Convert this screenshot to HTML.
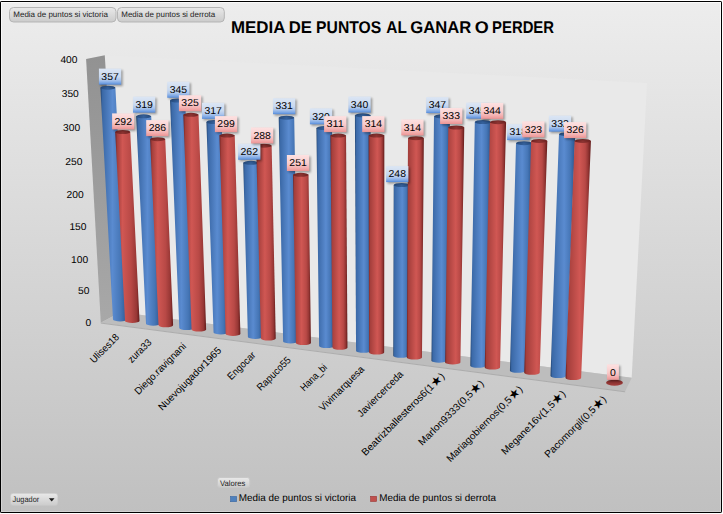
<!DOCTYPE html>
<html><head><meta charset="utf-8"><style>
html,body{margin:0;padding:0;background:#fff;}
svg{display:block;}
text{font-family:"Liberation Sans",sans-serif;text-rendering:geometricPrecision;}
.dl{font-size:10px;fill:#000;}
.ax{font-size:10px;fill:#000;}
.btn{font-size:8px;fill:#222;}
</style></head><body>
<svg width="723" height="514" viewBox="0 0 723 514">
<defs>
<linearGradient id="bg" x1="0" y1="0" x2="0" y2="1">
<stop offset="0" stop-color="#ededed"/><stop offset="1" stop-color="#c0c0c0"/>
</linearGradient>
<linearGradient id="lw" x1="0" y1="0" x2="0" y2="1">
<stop offset="0" stop-color="#929292"/><stop offset="1" stop-color="#a8a8a8"/>
</linearGradient>
<linearGradient id="gb" x1="0" y1="0" x2="1" y2="0">
<stop offset="0" stop-color="#21436f"/><stop offset="0.1" stop-color="#3b69a7"/>
<stop offset="0.48" stop-color="#5a8bd0"/><stop offset="0.78" stop-color="#4a7aba"/><stop offset="0.93" stop-color="#3864a0"/><stop offset="1" stop-color="#274a7c"/>
</linearGradient>
<linearGradient id="gr" x1="0" y1="0" x2="1" y2="0">
<stop offset="0" stop-color="#6a1e1d"/><stop offset="0.1" stop-color="#a13d3a"/>
<stop offset="0.5" stop-color="#cf5652"/><stop offset="0.78" stop-color="#bc4a47"/><stop offset="0.93" stop-color="#9c3a38"/><stop offset="1" stop-color="#6c1f1e"/>
</linearGradient>
<linearGradient id="cb" x1="0" y1="0" x2="1" y2="0">
<stop offset="0" stop-color="#25497a"/><stop offset="0.5" stop-color="#35619c"/><stop offset="1" stop-color="#25497a"/>
</linearGradient>
<linearGradient id="cr" x1="0" y1="0" x2="1" y2="0">
<stop offset="0" stop-color="#6e2322"/><stop offset="0.5" stop-color="#8e3432"/><stop offset="1" stop-color="#6e2322"/>
</linearGradient>
<linearGradient id="lb" x1="0" y1="0" x2="0" y2="1">
<stop offset="0" stop-color="#dce6f4"/><stop offset="0.5" stop-color="#c9d9f0"/><stop offset="0.72" stop-color="#abc5ec"/><stop offset="0.9" stop-color="#78a4e3"/><stop offset="1" stop-color="#5289db"/>
</linearGradient>
<linearGradient id="lr" x1="0" y1="0" x2="0" y2="1">
<stop offset="0" stop-color="#fde1e1"/><stop offset="0.5" stop-color="#f9cdcd"/><stop offset="0.75" stop-color="#f4b6b6"/><stop offset="0.92" stop-color="#ef9f9f"/><stop offset="1" stop-color="#ea9494"/>
</linearGradient>
<linearGradient id="btn" x1="0" y1="0" x2="0" y2="1">
<stop offset="0" stop-color="#e9e9e9"/><stop offset="1" stop-color="#cbcbcb"/>
</linearGradient>
<linearGradient id="hl" x1="0" y1="0" x2="0" y2="1"><stop offset="0" stop-color="#fafafa"/><stop offset="1" stop-color="#d2d2d2"/></linearGradient>
<linearGradient id="ze" x1="0" y1="0" x2="0" y2="1"><stop offset="0" stop-color="#7d2b2a"/><stop offset="1" stop-color="#a43f3d"/></linearGradient>
<linearGradient id="gb0" x1="0" y1="0" x2="1" y2="0"><stop offset="0.000" stop-color="#21436f"/><stop offset="0.080" stop-color="#3b69a7"/><stop offset="0.450" stop-color="#5a8bd0"/><stop offset="0.753" stop-color="#4676b6"/><stop offset="0.930" stop-color="#33609b"/><stop offset="1.000" stop-color="#264979"/></linearGradient><linearGradient id="gr1" x1="0" y1="0" x2="1" y2="0"><stop offset="0.000" stop-color="#6a1e1d"/><stop offset="0.080" stop-color="#a33e3b"/><stop offset="0.300" stop-color="#d05753"/><stop offset="0.650" stop-color="#b84946"/><stop offset="0.880" stop-color="#973735"/><stop offset="1.000" stop-color="#621b1a"/></linearGradient><linearGradient id="gb2" x1="0" y1="0" x2="1" y2="0"><stop offset="0.000" stop-color="#21436f"/><stop offset="0.080" stop-color="#3b69a7"/><stop offset="0.464" stop-color="#5a8bd0"/><stop offset="0.759" stop-color="#4676b6"/><stop offset="0.930" stop-color="#33609b"/><stop offset="1.000" stop-color="#264979"/></linearGradient><linearGradient id="gr3" x1="0" y1="0" x2="1" y2="0"><stop offset="0.000" stop-color="#6a1e1d"/><stop offset="0.080" stop-color="#a33e3b"/><stop offset="0.335" stop-color="#d05753"/><stop offset="0.668" stop-color="#b84946"/><stop offset="0.880" stop-color="#973735"/><stop offset="1.000" stop-color="#621b1a"/></linearGradient><linearGradient id="gb4" x1="0" y1="0" x2="1" y2="0"><stop offset="0.000" stop-color="#21436f"/><stop offset="0.080" stop-color="#3b69a7"/><stop offset="0.478" stop-color="#5a8bd0"/><stop offset="0.765" stop-color="#4676b6"/><stop offset="0.930" stop-color="#33609b"/><stop offset="1.000" stop-color="#264979"/></linearGradient><linearGradient id="gr5" x1="0" y1="0" x2="1" y2="0"><stop offset="0.000" stop-color="#6a1e1d"/><stop offset="0.080" stop-color="#a33e3b"/><stop offset="0.368" stop-color="#d05753"/><stop offset="0.684" stop-color="#b84946"/><stop offset="0.880" stop-color="#973735"/><stop offset="1.000" stop-color="#621b1a"/></linearGradient><linearGradient id="gb6" x1="0" y1="0" x2="1" y2="0"><stop offset="0.000" stop-color="#21436f"/><stop offset="0.080" stop-color="#3b69a7"/><stop offset="0.493" stop-color="#5a8bd0"/><stop offset="0.772" stop-color="#4676b6"/><stop offset="0.930" stop-color="#33609b"/><stop offset="1.000" stop-color="#264979"/></linearGradient><linearGradient id="gr7" x1="0" y1="0" x2="1" y2="0"><stop offset="0.000" stop-color="#6a1e1d"/><stop offset="0.080" stop-color="#a33e3b"/><stop offset="0.404" stop-color="#d05753"/><stop offset="0.702" stop-color="#b84946"/><stop offset="0.880" stop-color="#973735"/><stop offset="1.000" stop-color="#621b1a"/></linearGradient><linearGradient id="gb8" x1="0" y1="0" x2="1" y2="0"><stop offset="0.000" stop-color="#21436f"/><stop offset="0.080" stop-color="#3b69a7"/><stop offset="0.507" stop-color="#5a8bd0"/><stop offset="0.778" stop-color="#4676b6"/><stop offset="0.930" stop-color="#33609b"/><stop offset="1.000" stop-color="#264979"/></linearGradient><linearGradient id="gr9" x1="0" y1="0" x2="1" y2="0"><stop offset="0.000" stop-color="#6a1e1d"/><stop offset="0.080" stop-color="#a33e3b"/><stop offset="0.441" stop-color="#d05753"/><stop offset="0.721" stop-color="#b84946"/><stop offset="0.880" stop-color="#973735"/><stop offset="1.000" stop-color="#621b1a"/></linearGradient><linearGradient id="gb10" x1="0" y1="0" x2="1" y2="0"><stop offset="0.000" stop-color="#21436f"/><stop offset="0.080" stop-color="#3b69a7"/><stop offset="0.521" stop-color="#5a8bd0"/><stop offset="0.785" stop-color="#4676b6"/><stop offset="0.930" stop-color="#33609b"/><stop offset="1.000" stop-color="#264979"/></linearGradient><linearGradient id="gr11" x1="0" y1="0" x2="1" y2="0"><stop offset="0.000" stop-color="#6a1e1d"/><stop offset="0.080" stop-color="#a33e3b"/><stop offset="0.478" stop-color="#d05753"/><stop offset="0.739" stop-color="#b84946"/><stop offset="0.880" stop-color="#973735"/><stop offset="1.000" stop-color="#621b1a"/></linearGradient><linearGradient id="gb12" x1="0" y1="0" x2="1" y2="0"><stop offset="0.000" stop-color="#21436f"/><stop offset="0.080" stop-color="#3b69a7"/><stop offset="0.537" stop-color="#5a8bd0"/><stop offset="0.791" stop-color="#4676b6"/><stop offset="0.930" stop-color="#33609b"/><stop offset="1.000" stop-color="#264979"/></linearGradient><linearGradient id="gr13" x1="0" y1="0" x2="1" y2="0"><stop offset="0.000" stop-color="#6a1e1d"/><stop offset="0.080" stop-color="#a33e3b"/><stop offset="0.515" stop-color="#d05753"/><stop offset="0.758" stop-color="#b84946"/><stop offset="0.880" stop-color="#973735"/><stop offset="1.000" stop-color="#621b1a"/></linearGradient><linearGradient id="gb14" x1="0" y1="0" x2="1" y2="0"><stop offset="0.000" stop-color="#21436f"/><stop offset="0.080" stop-color="#3b69a7"/><stop offset="0.550" stop-color="#5a8bd0"/><stop offset="0.798" stop-color="#4676b6"/><stop offset="0.930" stop-color="#33609b"/><stop offset="1.000" stop-color="#264979"/></linearGradient><linearGradient id="gr15" x1="0" y1="0" x2="1" y2="0"><stop offset="0.000" stop-color="#6a1e1d"/><stop offset="0.080" stop-color="#a33e3b"/><stop offset="0.550" stop-color="#d05753"/><stop offset="0.775" stop-color="#b84946"/><stop offset="0.880" stop-color="#973735"/><stop offset="1.000" stop-color="#621b1a"/></linearGradient><linearGradient id="gb16" x1="0" y1="0" x2="1" y2="0"><stop offset="0.000" stop-color="#21436f"/><stop offset="0.080" stop-color="#3b69a7"/><stop offset="0.550" stop-color="#5a8bd0"/><stop offset="0.798" stop-color="#4676b6"/><stop offset="0.930" stop-color="#33609b"/><stop offset="1.000" stop-color="#264979"/></linearGradient><linearGradient id="gr17" x1="0" y1="0" x2="1" y2="0"><stop offset="0.000" stop-color="#6a1e1d"/><stop offset="0.080" stop-color="#a33e3b"/><stop offset="0.550" stop-color="#d05753"/><stop offset="0.775" stop-color="#b84946"/><stop offset="0.880" stop-color="#973735"/><stop offset="1.000" stop-color="#621b1a"/></linearGradient><linearGradient id="gb18" x1="0" y1="0" x2="1" y2="0"><stop offset="0.000" stop-color="#21436f"/><stop offset="0.080" stop-color="#3b69a7"/><stop offset="0.550" stop-color="#5a8bd0"/><stop offset="0.798" stop-color="#4676b6"/><stop offset="0.930" stop-color="#33609b"/><stop offset="1.000" stop-color="#264979"/></linearGradient><linearGradient id="gr19" x1="0" y1="0" x2="1" y2="0"><stop offset="0.000" stop-color="#6a1e1d"/><stop offset="0.080" stop-color="#a33e3b"/><stop offset="0.550" stop-color="#d05753"/><stop offset="0.775" stop-color="#b84946"/><stop offset="0.880" stop-color="#973735"/><stop offset="1.000" stop-color="#621b1a"/></linearGradient><linearGradient id="gb20" x1="0" y1="0" x2="1" y2="0"><stop offset="0.000" stop-color="#21436f"/><stop offset="0.080" stop-color="#3b69a7"/><stop offset="0.550" stop-color="#5a8bd0"/><stop offset="0.798" stop-color="#4676b6"/><stop offset="0.930" stop-color="#33609b"/><stop offset="1.000" stop-color="#264979"/></linearGradient><linearGradient id="gr21" x1="0" y1="0" x2="1" y2="0"><stop offset="0.000" stop-color="#6a1e1d"/><stop offset="0.080" stop-color="#a33e3b"/><stop offset="0.550" stop-color="#d05753"/><stop offset="0.775" stop-color="#b84946"/><stop offset="0.880" stop-color="#973735"/><stop offset="1.000" stop-color="#621b1a"/></linearGradient><linearGradient id="gb22" x1="0" y1="0" x2="1" y2="0"><stop offset="0.000" stop-color="#21436f"/><stop offset="0.080" stop-color="#3b69a7"/><stop offset="0.550" stop-color="#5a8bd0"/><stop offset="0.798" stop-color="#4676b6"/><stop offset="0.930" stop-color="#33609b"/><stop offset="1.000" stop-color="#264979"/></linearGradient><linearGradient id="gr23" x1="0" y1="0" x2="1" y2="0"><stop offset="0.000" stop-color="#6a1e1d"/><stop offset="0.080" stop-color="#a33e3b"/><stop offset="0.550" stop-color="#d05753"/><stop offset="0.775" stop-color="#b84946"/><stop offset="0.880" stop-color="#973735"/><stop offset="1.000" stop-color="#621b1a"/></linearGradient><linearGradient id="gb24" x1="0" y1="0" x2="1" y2="0"><stop offset="0.000" stop-color="#21436f"/><stop offset="0.080" stop-color="#3b69a7"/><stop offset="0.550" stop-color="#5a8bd0"/><stop offset="0.798" stop-color="#4676b6"/><stop offset="0.930" stop-color="#33609b"/><stop offset="1.000" stop-color="#264979"/></linearGradient><linearGradient id="gr25" x1="0" y1="0" x2="1" y2="0"><stop offset="0.000" stop-color="#6a1e1d"/><stop offset="0.080" stop-color="#a33e3b"/><stop offset="0.550" stop-color="#d05753"/><stop offset="0.775" stop-color="#b84946"/><stop offset="0.880" stop-color="#973735"/><stop offset="1.000" stop-color="#621b1a"/></linearGradient>
<filter id="sh" x="-30%" y="-30%" width="160%" height="160%"><feGaussianBlur stdDeviation="1.3"/></filter>
</defs>
<rect x="0" y="0" width="723" height="514" fill="#fff"/>
<rect x="0.5" y="1.5" width="721" height="511" rx="0.6" fill="url(#bg)" stroke="#000" stroke-width="1"/>
<rect x="1.5" y="2.5" width="719" height="509" fill="none" stroke="url(#hl)" stroke-width="1"/>
<!-- back wall -->
<polygon points="104.8,55.2 647,83 631.7,377.8 120.5,312.3" fill="#e9e9e9"/>
<!-- left wall -->
<polygon points="86.1,59.0 104.8,55.2 120.5,312.3 100.8,322.8" fill="url(#lw)"/>
<!-- floor -->
<polygon points="100.8,322.8 120.5,312.3 631.7,377.8 625.1,391.5" fill="#bdbdbd"/>
<line x1="100.8" y1="323.1" x2="625.1" y2="391.8" stroke="#a5a5a5" stroke-width="0.8"/>
<path d="M100.40,87.70 L112.99,319.38 A7.16,2.00 0 0 0 127.31,319.38 L115.40,87.70 Z" fill="url(#gb0)"/><ellipse cx="107.90" cy="87.70" rx="7.50" ry="2.00" fill="url(#cb)"/>
<path d="M115.20,132.00 L125.04,320.95 A7.24,2.00 0 0 0 139.53,320.95 L130.24,132.00 Z" fill="url(#gr1)"/><ellipse cx="122.72" cy="132.00" rx="7.52" ry="2.00" fill="url(#cr)"/>
<path d="M136.10,116.30 L146.00,323.66 A7.24,2.00 0 0 0 160.49,323.66 L151.20,116.30 Z" fill="url(#gb2)"/><ellipse cx="143.65" cy="116.30" rx="7.55" ry="2.00" fill="url(#cb)"/>
<path d="M150.10,139.20 L158.53,325.29 A7.29,2.00 0 0 0 173.12,325.29 L165.24,139.20 Z" fill="url(#gr3)"/><ellipse cx="157.67" cy="139.20" rx="7.57" ry="2.00" fill="url(#cr)"/>
<path d="M170.00,100.50 L179.31,327.98 A7.26,2.00 0 0 0 193.83,327.98 L185.20,100.50 Z" fill="url(#gb4)"/><ellipse cx="177.60" cy="100.50" rx="7.60" ry="2.00" fill="url(#cb)"/>
<path d="M183.30,114.80 L191.56,329.57 A7.30,2.00 0 0 0 206.16,329.57 L198.53,114.80 Z" fill="url(#gr5)"/><ellipse cx="190.92" cy="114.80" rx="7.62" ry="2.00" fill="url(#cr)"/>
<path d="M206.40,122.00 L213.56,332.42 A7.33,2.00 0 0 0 228.23,332.42 L221.70,122.00 Z" fill="url(#gb6)"/><ellipse cx="214.05" cy="122.00" rx="7.65" ry="2.00" fill="url(#cb)"/>
<path d="M219.40,135.60 L225.67,334.00 A7.37,2.00 0 0 0 240.40,334.00 L234.73,135.60 Z" fill="url(#gr7)"/><ellipse cx="227.07" cy="135.60" rx="7.67" ry="2.00" fill="url(#cr)"/>
<path d="M243.20,162.80 L247.92,336.89 A7.43,2.00 0 0 0 262.79,336.89 L258.60,162.80 Z" fill="url(#gb8)"/><ellipse cx="250.90" cy="162.80" rx="7.70" ry="2.00" fill="url(#cb)"/>
<path d="M256.20,145.70 L260.91,338.57 A7.43,2.00 0 0 0 275.76,338.57 L271.64,145.70 Z" fill="url(#gr9)"/><ellipse cx="263.92" cy="145.70" rx="7.72" ry="2.00" fill="url(#cr)"/>
<path d="M278.70,117.70 L283.13,341.44 A7.41,2.00 0 0 0 297.96,341.44 L294.20,117.70 Z" fill="url(#gb10)"/><ellipse cx="286.45" cy="117.70" rx="7.75" ry="2.00" fill="url(#cb)"/>
<path d="M293.00,174.80 L295.91,343.11 A7.51,2.00 0 0 0 310.93,343.11 L308.54,174.80 Z" fill="url(#gr11)"/><ellipse cx="300.77" cy="174.80" rx="7.77" ry="2.00" fill="url(#cr)"/>
<path d="M316.40,128.10 L319.12,346.11 A7.47,2.00 0 0 0 334.06,346.11 L332.01,128.10 Z" fill="url(#gb12)"/><ellipse cx="324.20" cy="128.10" rx="7.80" ry="2.00" fill="url(#cb)"/>
<path d="M330.40,135.60 L332.47,347.84 A7.50,2.00 0 0 0 347.46,347.84 L346.05,135.60 Z" fill="url(#gr13)"/><ellipse cx="338.22" cy="135.60" rx="7.82" ry="2.00" fill="url(#cr)"/>
<path d="M354.90,115.30 L356.06,350.90 A7.50,2.00 0 0 0 371.05,350.90 L370.61,115.30 Z" fill="url(#gb14)"/><ellipse cx="362.76" cy="115.30" rx="7.86" ry="2.00" fill="url(#cb)"/>
<path d="M368.60,135.60 L369.09,352.59 A7.54,2.00 0 0 0 384.17,352.59 L384.35,135.60 Z" fill="url(#gr15)"/><ellipse cx="376.48" cy="135.60" rx="7.88" ry="2.00" fill="url(#cr)"/>
<path d="M393.70,185.00 L393.23,355.73 A7.64,2.00 0 0 0 408.52,355.73 L409.52,185.00 Z" fill="url(#gb16)"/><ellipse cx="401.61" cy="185.00" rx="7.91" ry="2.00" fill="url(#cb)"/>
<path d="M408.00,138.20 L406.79,357.48 A7.59,2.00 0 0 0 421.97,357.48 L423.86,138.20 Z" fill="url(#gr17)"/><ellipse cx="415.93" cy="138.20" rx="7.93" ry="2.00" fill="url(#cr)"/>
<path d="M434.00,116.30 L431.42,360.67 A7.59,2.00 0 0 0 446.60,360.67 L449.94,116.30 Z" fill="url(#gb18)"/><ellipse cx="441.97" cy="116.30" rx="7.97" ry="2.00" fill="url(#cb)"/>
<path d="M448.30,127.50 L445.16,362.45 A7.62,2.00 0 0 0 460.40,362.45 L464.28,127.50 Z" fill="url(#gr19)"/><ellipse cx="456.29" cy="127.50" rx="7.99" ry="2.00" fill="url(#cr)"/>
<path d="M474.80,122.00 L470.28,365.71 A7.64,2.00 0 0 0 485.57,365.71 L490.85,122.00 Z" fill="url(#gb20)"/><ellipse cx="482.82" cy="122.00" rx="8.02" ry="2.00" fill="url(#cb)"/>
<path d="M490.00,122.20 L484.72,367.58 A7.66,2.00 0 0 0 500.04,367.58 L506.09,122.20 Z" fill="url(#gr21)"/><ellipse cx="498.05" cy="122.20" rx="8.05" ry="2.00" fill="url(#cr)"/>
<path d="M516.00,143.20 L509.92,370.85 A7.72,2.00 0 0 0 525.36,370.85 L532.16,143.20 Z" fill="url(#gb22)"/><ellipse cx="524.08" cy="143.20" rx="8.08" ry="2.00" fill="url(#cb)"/>
<path d="M531.10,140.90 L524.22,372.71 A7.73,2.00 0 0 0 539.69,372.71 L547.31,140.90 Z" fill="url(#gr23)"/><ellipse cx="539.20" cy="140.90" rx="8.10" ry="2.00" fill="url(#cr)"/>
<path d="M559.00,134.20 L550.51,376.12 A7.76,2.00 0 0 0 566.03,376.12 L575.29,134.20 Z" fill="url(#gb24)"/><ellipse cx="567.14" cy="134.20" rx="8.14" ry="2.00" fill="url(#cb)"/>
<path d="M574.60,140.90 L565.54,378.06 A7.78,2.00 0 0 0 581.11,378.06 L590.93,140.90 Z" fill="url(#gr25)"/><ellipse cx="582.76" cy="140.90" rx="8.16" ry="2.00" fill="url(#cr)"/>
<ellipse cx="614.5" cy="382.7" rx="8.4" ry="3.0" fill="url(#ze)"/>
<rect x="100.40" y="70.10" width="22.30" height="16.00" fill="#000" opacity="0.35" filter="url(#sh)"/><rect x="98.90" y="68.60" width="22.30" height="16.00" fill="url(#lb)"/><text x="110.05" y="79.80" text-anchor="middle" class="dl" textLength="17.40" lengthAdjust="spacingAndGlyphs">357</text>
<rect x="113.60" y="114.90" width="22.30" height="16.00" fill="#000" opacity="0.35" filter="url(#sh)"/><rect x="112.10" y="113.40" width="22.30" height="16.00" fill="url(#lr)"/><text x="123.25" y="124.60" text-anchor="middle" class="dl" textLength="17.40" lengthAdjust="spacingAndGlyphs">292</text>
<rect x="134.50" y="98.10" width="22.30" height="16.00" fill="#000" opacity="0.35" filter="url(#sh)"/><rect x="133.00" y="96.60" width="22.30" height="16.00" fill="url(#lb)"/><text x="144.15" y="107.80" text-anchor="middle" class="dl" textLength="17.40" lengthAdjust="spacingAndGlyphs">319</text>
<rect x="147.70" y="121.60" width="22.30" height="16.00" fill="#000" opacity="0.35" filter="url(#sh)"/><rect x="146.20" y="120.10" width="22.30" height="16.00" fill="url(#lr)"/><text x="157.35" y="131.30" text-anchor="middle" class="dl" textLength="17.40" lengthAdjust="spacingAndGlyphs">286</text>
<rect x="168.70" y="83.20" width="22.30" height="16.00" fill="#000" opacity="0.35" filter="url(#sh)"/><rect x="167.20" y="81.70" width="22.30" height="16.00" fill="url(#lb)"/><text x="178.35" y="92.90" text-anchor="middle" class="dl" textLength="17.40" lengthAdjust="spacingAndGlyphs">345</text>
<rect x="180.40" y="96.70" width="22.30" height="16.00" fill="#000" opacity="0.35" filter="url(#sh)"/><rect x="178.90" y="95.20" width="22.30" height="16.00" fill="url(#lr)"/><text x="190.05" y="106.40" text-anchor="middle" class="dl" textLength="17.40" lengthAdjust="spacingAndGlyphs">325</text>
<rect x="203.50" y="104.30" width="22.30" height="16.00" fill="#000" opacity="0.35" filter="url(#sh)"/><rect x="202.00" y="102.80" width="22.30" height="16.00" fill="url(#lb)"/><text x="213.15" y="114.00" text-anchor="middle" class="dl" textLength="17.40" lengthAdjust="spacingAndGlyphs">317</text>
<rect x="216.40" y="117.60" width="22.30" height="16.00" fill="#000" opacity="0.35" filter="url(#sh)"/><rect x="214.90" y="116.10" width="22.30" height="16.00" fill="url(#lr)"/><text x="226.05" y="127.30" text-anchor="middle" class="dl" textLength="17.40" lengthAdjust="spacingAndGlyphs">299</text>
<rect x="239.60" y="145.20" width="22.30" height="16.00" fill="#000" opacity="0.35" filter="url(#sh)"/><rect x="238.10" y="143.70" width="22.30" height="16.00" fill="url(#lb)"/><text x="249.25" y="154.90" text-anchor="middle" class="dl" textLength="17.40" lengthAdjust="spacingAndGlyphs">262</text>
<rect x="252.50" y="128.90" width="22.30" height="16.00" fill="#000" opacity="0.35" filter="url(#sh)"/><rect x="251.00" y="127.40" width="22.30" height="16.00" fill="url(#lr)"/><text x="262.15" y="138.60" text-anchor="middle" class="dl" textLength="17.40" lengthAdjust="spacingAndGlyphs">288</text>
<rect x="274.50" y="99.70" width="22.30" height="16.00" fill="#000" opacity="0.35" filter="url(#sh)"/><rect x="273.00" y="98.20" width="22.30" height="16.00" fill="url(#lb)"/><text x="284.15" y="109.40" text-anchor="middle" class="dl" textLength="17.40" lengthAdjust="spacingAndGlyphs">331</text>
<rect x="288.40" y="156.50" width="22.30" height="16.00" fill="#000" opacity="0.35" filter="url(#sh)"/><rect x="286.90" y="155.00" width="22.30" height="16.00" fill="url(#lr)"/><text x="298.05" y="166.20" text-anchor="middle" class="dl" textLength="17.40" lengthAdjust="spacingAndGlyphs">251</text>
<rect x="311.40" y="109.80" width="22.30" height="16.00" fill="#000" opacity="0.35" filter="url(#sh)"/><rect x="309.90" y="108.30" width="22.30" height="16.00" fill="url(#lb)"/><text x="321.05" y="119.50" text-anchor="middle" class="dl" textLength="17.40" lengthAdjust="spacingAndGlyphs">320</text>
<rect x="325.60" y="117.60" width="22.30" height="16.00" fill="#000" opacity="0.35" filter="url(#sh)"/><rect x="324.10" y="116.10" width="22.30" height="16.00" fill="url(#lr)"/><text x="335.25" y="127.30" text-anchor="middle" class="dl" textLength="17.40" lengthAdjust="spacingAndGlyphs">311</text>
<rect x="349.90" y="98.00" width="22.30" height="16.00" fill="#000" opacity="0.35" filter="url(#sh)"/><rect x="348.40" y="96.50" width="22.30" height="16.00" fill="url(#lb)"/><text x="359.55" y="107.70" text-anchor="middle" class="dl" textLength="17.40" lengthAdjust="spacingAndGlyphs">340</text>
<rect x="363.70" y="117.60" width="22.30" height="16.00" fill="#000" opacity="0.35" filter="url(#sh)"/><rect x="362.20" y="116.10" width="22.30" height="16.00" fill="url(#lr)"/><text x="373.35" y="127.30" text-anchor="middle" class="dl" textLength="17.40" lengthAdjust="spacingAndGlyphs">314</text>
<rect x="387.60" y="167.60" width="22.30" height="16.00" fill="#000" opacity="0.35" filter="url(#sh)"/><rect x="386.10" y="166.10" width="22.30" height="16.00" fill="url(#lb)"/><text x="397.25" y="177.30" text-anchor="middle" class="dl" textLength="17.40" lengthAdjust="spacingAndGlyphs">248</text>
<rect x="402.80" y="120.90" width="22.30" height="16.00" fill="#000" opacity="0.35" filter="url(#sh)"/><rect x="401.30" y="119.40" width="22.30" height="16.00" fill="url(#lr)"/><text x="412.45" y="130.60" text-anchor="middle" class="dl" textLength="17.40" lengthAdjust="spacingAndGlyphs">314</text>
<rect x="427.70" y="98.60" width="22.30" height="16.00" fill="#000" opacity="0.35" filter="url(#sh)"/><rect x="426.20" y="97.10" width="22.30" height="16.00" fill="url(#lb)"/><text x="437.35" y="108.30" text-anchor="middle" class="dl" textLength="17.40" lengthAdjust="spacingAndGlyphs">347</text>
<rect x="441.60" y="109.50" width="22.30" height="16.00" fill="#000" opacity="0.35" filter="url(#sh)"/><rect x="440.10" y="108.00" width="22.30" height="16.00" fill="url(#lr)"/><text x="451.25" y="119.20" text-anchor="middle" class="dl" textLength="17.40" lengthAdjust="spacingAndGlyphs">333</text>
<rect x="467.70" y="104.10" width="22.30" height="16.00" fill="#000" opacity="0.35" filter="url(#sh)"/><rect x="466.20" y="102.60" width="22.30" height="16.00" fill="url(#lb)"/><text x="477.35" y="113.80" text-anchor="middle" class="dl" textLength="17.40" lengthAdjust="spacingAndGlyphs">345</text>
<rect x="482.50" y="104.40" width="22.30" height="16.00" fill="#000" opacity="0.35" filter="url(#sh)"/><rect x="481.00" y="102.90" width="22.30" height="16.00" fill="url(#lr)"/><text x="492.15" y="114.10" text-anchor="middle" class="dl" textLength="17.40" lengthAdjust="spacingAndGlyphs">344</text>
<rect x="508.60" y="125.60" width="22.30" height="16.00" fill="#000" opacity="0.35" filter="url(#sh)"/><rect x="507.10" y="124.10" width="22.30" height="16.00" fill="url(#lb)"/><text x="518.25" y="135.30" text-anchor="middle" class="dl" textLength="17.40" lengthAdjust="spacingAndGlyphs">318</text>
<rect x="523.70" y="122.80" width="22.30" height="16.00" fill="#000" opacity="0.35" filter="url(#sh)"/><rect x="522.20" y="121.30" width="22.30" height="16.00" fill="url(#lr)"/><text x="533.35" y="132.50" text-anchor="middle" class="dl" textLength="17.40" lengthAdjust="spacingAndGlyphs">323</text>
<rect x="550.40" y="117.10" width="22.30" height="16.00" fill="#000" opacity="0.35" filter="url(#sh)"/><rect x="548.90" y="115.60" width="22.30" height="16.00" fill="url(#lb)"/><text x="560.05" y="126.80" text-anchor="middle" class="dl" textLength="17.40" lengthAdjust="spacingAndGlyphs">332</text>
<rect x="565.50" y="123.60" width="22.30" height="16.00" fill="#000" opacity="0.35" filter="url(#sh)"/><rect x="564.00" y="122.10" width="22.30" height="16.00" fill="url(#lr)"/><text x="575.15" y="133.30" text-anchor="middle" class="dl" textLength="17.40" lengthAdjust="spacingAndGlyphs">326</text>
<rect x="608.50" y="365.80" width="11.90" height="15.50" fill="#000" opacity="0.35" filter="url(#sh)"/><rect x="607.00" y="364.30" width="11.90" height="15.50" fill="url(#lr)"/><text x="612.95" y="376.2" text-anchor="middle" class="dl" textLength="5.80" lengthAdjust="spacingAndGlyphs">0</text>
<text x="77.5" y="63.1" text-anchor="end" class="dl" textLength="17.10" lengthAdjust="spacingAndGlyphs">400</text>
<text x="78.8" y="97.1" text-anchor="end" class="dl" textLength="17.10" lengthAdjust="spacingAndGlyphs">350</text>
<text x="80.2" y="131.0" text-anchor="end" class="dl" textLength="17.10" lengthAdjust="spacingAndGlyphs">300</text>
<text x="82.4" y="165.0" text-anchor="end" class="dl" textLength="17.10" lengthAdjust="spacingAndGlyphs">250</text>
<text x="83.7" y="198.0" text-anchor="end" class="dl" textLength="17.10" lengthAdjust="spacingAndGlyphs">200</text>
<text x="86.5" y="230.0" text-anchor="end" class="dl" textLength="17.10" lengthAdjust="spacingAndGlyphs">150</text>
<text x="88.2" y="263.0" text-anchor="end" class="dl" textLength="17.10" lengthAdjust="spacingAndGlyphs">100</text>
<text x="89.4" y="294.3" text-anchor="end" class="dl" textLength="11.40" lengthAdjust="spacingAndGlyphs">50</text>
<text x="91.3" y="326.0" text-anchor="end" class="dl" textLength="5.70" lengthAdjust="spacingAndGlyphs">0</text>
<text x="104.3" y="351.8" text-anchor="middle" class="ax xl" transform="rotate(-45 104.3 348.2)" textLength="36.5" lengthAdjust="spacingAndGlyphs">Ulises18</text>
<text x="139.5" y="354.2" text-anchor="middle" class="ax xl" transform="rotate(-45 139.5 350.8)" textLength="28.9" lengthAdjust="spacingAndGlyphs">zura33</text>
<text x="160.2" y="372.1" text-anchor="middle" class="ax xl" transform="rotate(-45 160.2 368.6)" textLength="68.2" lengthAdjust="spacingAndGlyphs">Diego.ravignani</text>
<text x="189.6" y="382.1" text-anchor="middle" class="ax xl" transform="rotate(-45 189.6 378.6)" textLength="84.6" lengthAdjust="spacingAndGlyphs">Nuevojugador1965</text>
<text x="241.3" y="369.1" text-anchor="middle" class="ax xl" transform="rotate(-45 241.3 365.6)" textLength="35.1" lengthAdjust="spacingAndGlyphs">Engocar</text>
<text x="273.7" y="377.0" text-anchor="middle" class="ax xl" transform="rotate(-45 273.7 373.5)" textLength="43.4" lengthAdjust="spacingAndGlyphs">Rapuco55</text>
<text x="313.5" y="380.9" text-anchor="middle" class="ax xl" transform="rotate(-45 313.5 377.4)" textLength="33.4" lengthAdjust="spacingAndGlyphs">Hana_bi</text>
<text x="341.5" y="391.8" text-anchor="middle" class="ax xl" transform="rotate(-45 341.5 388.3)" textLength="59.0" lengthAdjust="spacingAndGlyphs">Vivimarquesa</text>
<text x="380.1" y="397.2" text-anchor="middle" class="ax xl" transform="rotate(-45 380.1 393.7)" textLength="60.1" lengthAdjust="spacingAndGlyphs">Javiercerceda</text>
<text x="402.9" y="417.6" text-anchor="middle" class="ax xl" transform="rotate(-45 402.9 414.1)" textLength="112.5" lengthAdjust="spacingAndGlyphs">Beatrizballesteros6(1<tspan font-size="12.5" dy="0.6">★</tspan><tspan dy="-0.6">)</tspan></text>
<text x="450.9" y="416.1" text-anchor="middle" class="ax xl" transform="rotate(-45 450.9 412.6)" textLength="87.8" lengthAdjust="spacingAndGlyphs">Marlon9333(0,5<tspan font-size="12.5" dy="0.6">★</tspan><tspan dy="-0.6">)</tspan></text>
<text x="484.4" y="427.2" text-anchor="middle" class="ax xl" transform="rotate(-45 484.4 423.8)" textLength="102.6" lengthAdjust="spacingAndGlyphs">Mariagobiernos(0,5<tspan font-size="12.5" dy="0.6">★</tspan><tspan dy="-0.6">)</tspan></text>
<text x="533.3" y="425.9" text-anchor="middle" class="ax xl" transform="rotate(-45 533.3 422.4)" textLength="86.1" lengthAdjust="spacingAndGlyphs">Megane16v(1,5<tspan font-size="12.5" dy="0.6">★</tspan><tspan dy="-0.6">)</tspan></text>
<text x="575.3" y="430.1" text-anchor="middle" class="ax xl" transform="rotate(-45 575.3 426.6)" textLength="82.6" lengthAdjust="spacingAndGlyphs">Pacomorgil(0,5<tspan font-size="12.5" dy="0.6">★</tspan><tspan dy="-0.6">)</tspan></text>
<text class="tw" x="231.00" y="33.2" font-weight="bold" font-size="17" textLength="54.40" lengthAdjust="spacingAndGlyphs" fill="#000">MEDIA</text>
<text class="tw" x="288.70" y="33.2" font-weight="bold" font-size="17" textLength="23.20" lengthAdjust="spacingAndGlyphs" fill="#000">DE</text>
<text class="tw" x="316.10" y="33.2" font-weight="bold" font-size="17" textLength="65.10" lengthAdjust="spacingAndGlyphs" fill="#000">PUNTOS</text>
<text class="tw" x="386.30" y="33.2" font-weight="bold" font-size="17" textLength="20.60" lengthAdjust="spacingAndGlyphs" fill="#000">AL</text>
<text class="tw" x="410.30" y="33.2" font-weight="bold" font-size="17" textLength="61.00" lengthAdjust="spacingAndGlyphs" fill="#000">GANAR</text>
<text class="tw" x="474.70" y="33.2" font-weight="bold" font-size="17" textLength="14.00" lengthAdjust="spacingAndGlyphs" fill="#000">O</text>
<text class="tw" x="492.10" y="33.2" font-weight="bold" font-size="17" textLength="61.90" lengthAdjust="spacingAndGlyphs" fill="#000">PERDER</text>
<!-- buttons -->
<rect x="9.5" y="7.5" width="106.5" height="14.5" rx="4" fill="url(#btn)" stroke="#b5b5b5"/>
<text x="13.3" y="17.4" class="btn" textLength="94.6" lengthAdjust="spacingAndGlyphs">Media de puntos si victoria</text>
<rect x="117.5" y="7.5" width="106.8" height="14.5" rx="4" fill="url(#btn)" stroke="#b5b5b5"/>
<text x="121.3" y="17.4" class="btn" textLength="93.9" lengthAdjust="spacingAndGlyphs">Media de puntos si derrota</text>
<rect x="217.5" y="477.5" width="32.3" height="10" rx="2.5" fill="url(#btn)" stroke="#c8c8c8"/>
<text x="220" y="485.6" class="btn" textLength="25.4" lengthAdjust="spacingAndGlyphs">Valores</text>
<rect x="10.3" y="493.3" width="47.6" height="12.4" rx="3" fill="url(#btn)" stroke="#c4c4c4" stroke-width="0.6"/>
<text x="12.6" y="502" class="btn" textLength="26.6" lengthAdjust="spacingAndGlyphs">Jugador</text>
<polygon points="48.9,498.2 54.5,498.2 51.7,501.5" fill="#1a1a1a"/>
<!-- legend -->
<rect x="230.6" y="496.5" width="6" height="5.2" fill="#4f81bd" stroke="#3a66a0" stroke-width="0.6"/>
<text x="238.8" y="500.9" font-size="10" textLength="117.2" lengthAdjust="spacingAndGlyphs" fill="#000">Media de puntos si victoria</text>
<rect x="370.6" y="496.3" width="6" height="5.2" fill="#c0504d" stroke="#9a3a38" stroke-width="0.6"/>
<text x="379.2" y="500.9" font-size="10" textLength="116.9" lengthAdjust="spacingAndGlyphs" fill="#000">Media de puntos si derrota</text>
</svg>
</body></html>
